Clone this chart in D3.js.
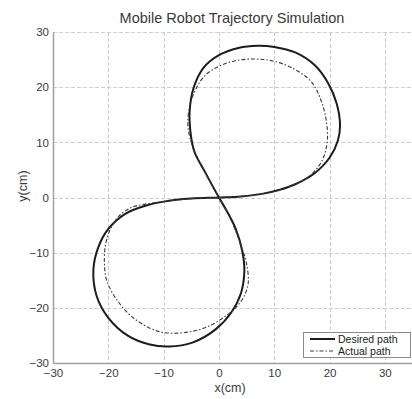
<!DOCTYPE html>
<html>
<head>
<meta charset="utf-8">
<script src="https://cdn.jsdelivr.net/npm/d3@7"></script>
<style>
  html, body { margin: 0; padding: 0; background: #fff; }
  svg { display: block; font-family: "Liberation Sans", Arial, sans-serif; }
</style>
</head>
<body>
<svg id="chart" width="412" height="399"></svg>
<script>
// Tick values on both axes (cm)
const xTicks = [-30, -20, -10, 0, 10, 20, 30];
const yTicks = [-30, -20, -10, 0, 10, 20, 30];

// Reference figure-eight trajectory, [x, y] in cm
const desiredPath = [
  [0, 0], [4, 0.2], [8, 0.7], [11, 1.4], [13.8, 2.4], [17.3, 4.4], [20, 7.2],
  [21.5, 10.3], [21.9, 13], [21.3, 17], [19.7, 20.8], [17.3, 24], [13.8, 26.3],
  [10, 27.3], [7, 27.5], [3.5, 27.1], [0, 25.8], [-2.8, 23.5], [-4.6, 19.8],
  [-5.3, 15.5], [-5.1, 11.5], [-4.4, 8.2], [-2.5, 4.6],
  [0, 0], [1.5, -2.6], [3, -5.6], [4.2, -9.6], [4.6, -13.2], [4.0, -17.3],
  [2.2, -20.9], [-0.6, -23.9], [-4.8, -26.3], [-9, -27], [-12.7, -26.6],
  [-16.4, -25.1], [-20, -21.8], [-22.1, -17.9], [-22.7, -13.1], [-21.8, -9],
  [-20, -5.7], [-17, -3], [-13.3, -1.5], [-9.7, -0.7], [-5, -0.2]
];

// Trajectory followed by the robot, [x, y] in cm
const actualPath = [
  [0, 0], [4, 0.2], [8, 0.7], [11, 1.4], [13.5, 2.3], [15.5, 3.3], [17.5, 5],
  [18.8, 7], [19.6, 10.3], [19.4, 14], [18.5, 17.5], [16.7, 21], [13, 23.6],
  [9.5, 24.8], [6.5, 25.1], [3, 24.8], [0, 23.8], [-2.3, 22.3], [-4, 20],
  [-5.3, 16.5], [-5.6, 13], [-5, 10], [-4, 7.5], [-2.4, 4.3],
  [0, 0], [1.5, -2.6], [3.2, -6.5], [4.3, -9.5], [5, -12], [5.3, -15.5],
  [4.5, -18], [3.2, -19.8], [1.2, -21.5], [-1.8, -23.3], [-5, -24.3],
  [-8.5, -24.6], [-11.5, -24.1], [-15.5, -21.8], [-18.5, -18.5], [-20.3, -15],
  [-20.7, -12], [-20.5, -8.5], [-19.5, -5.5], [-18, -3.3], [-15.8, -1.8],
  [-13.3, -1.2], [-9.7, -0.7], [-5, -0.2]
];

const seriesNames = ["Desired path", "Actual path"];

const svg = d3.select("#chart");
const plotLeft = 53, plotRight = 412.5, plotTop = 32, plotBottom = 363;

const x = d3.scaleLinear().domain([-30, 35]).range([plotLeft, plotRight]);
const y = d3.scaleLinear().domain([-30, 30]).range([plotBottom, plotTop]);

// Grid
const grid = svg.append("g")
  .attr("stroke", "#cdcdcd").attr("stroke-width", 1).attr("stroke-dasharray", "4,2");
grid.selectAll("line.v").data(xTicks.filter(d => d > -30)).join("line")
  .attr("x1", d => Math.round(x(d)) + 0.5).attr("x2", d => Math.round(x(d)) + 0.5)
  .attr("y1", plotTop).attr("y2", plotBottom);
grid.selectAll("line.h").data(yTicks.filter(d => d > -30)).join("line")
  .attr("y1", d => Math.round(y(d)) + 0.5).attr("y2", d => Math.round(y(d)) + 0.5)
  .attr("x1", plotLeft).attr("x2", plotRight);

// Axes
const xAxis = d3.axisBottom(x).tickValues(xTicks).tickSize(0).tickPadding(6)
  .tickFormat(d3.format("d"));
const yAxis = d3.axisLeft(y).tickValues(yTicks).tickSize(0).tickPadding(4)
  .tickFormat(d3.format("d"));

const gx = svg.append("g").attr("transform", `translate(0,${plotBottom})`).call(xAxis);
const gy = svg.append("g").attr("transform", `translate(${plotLeft},0)`).call(yAxis);
[gx, gy].forEach(g => {
  g.select(".domain").attr("stroke", "#a0a0a0").attr("stroke-width", 1.5);
  g.selectAll("text").attr("fill", "#3a3a3a").style("font-size", "11.5px");
});

// Trajectories
const line = d3.line().x(d => x(d[0])).y(d => y(d[1])).curve(d3.curveCatmullRomClosed.alpha(0.5));

svg.append("path").datum(desiredPath)
  .attr("d", line).attr("fill", "none")
  .attr("stroke", "#1c1c1c").attr("stroke-width", 2);

svg.append("path").datum(actualPath)
  .attr("d", line).attr("fill", "none")
  .attr("stroke", "#3a3a3a").attr("stroke-width", 1.1)
  .attr("stroke-dasharray", "4,2,1.5,2");

// Title and axis labels
svg.append("text").attr("x", 232).attr("y", 23).attr("text-anchor", "middle")
  .attr("fill", "#3a3a3a").style("font-size", "14.5px")
  .text("Mobile Robot Trajectory Simulation");
svg.append("text").attr("x", 230).attr("y", 392).attr("text-anchor", "middle")
  .attr("fill", "#3a3a3a").style("font-size", "12.5px").text("x(cm)");
svg.append("text").attr("transform", "translate(27,186) rotate(-90)")
  .attr("text-anchor", "middle").attr("fill", "#3a3a3a").style("font-size", "12.5px")
  .text("y(cm)");

// Legend
const lg = svg.append("g").attr("transform", "translate(303,332)");
lg.append("rect").attr("x", 0.5).attr("y", 0.5).attr("width", 107).attr("height", 25)
  .attr("fill", "#fff").attr("stroke", "#8a8a8a");
const styles = [
  { stroke: "#1c1c1c", width: 2, dash: null },
  { stroke: "#3a3a3a", width: 1.1, dash: "4,2,1.5,2" }
];
seriesNames.forEach((name, i) => {
  const yy = 7 + i * 12;
  lg.append("line").attr("x1", 7).attr("x2", 32).attr("y1", yy).attr("y2", yy)
    .attr("stroke", styles[i].stroke).attr("stroke-width", styles[i].width)
    .attr("stroke-dasharray", styles[i].dash);
  lg.append("text").attr("x", 35).attr("y", yy + 3.8).attr("fill", "#222")
    .style("font-size", "10.5px").text(name);
});
</script>
</body>
</html>
